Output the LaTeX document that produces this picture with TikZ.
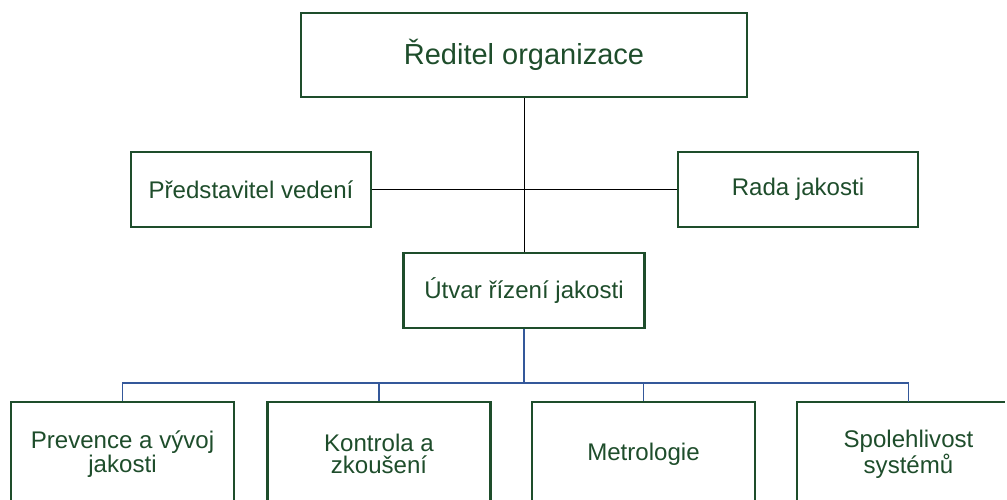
\documentclass[tikz,border=0pt]{standalone}
\usepackage{fontspec}
\setmainfont{Liberation Sans}
\definecolor{orgGreen}{HTML}{1E4D2B}
\definecolor{orgBlue}{HTML}{34589A}
\begin{document}
\begin{tikzpicture}[
                orgBox/.style={draw=orgGreen,line width=1.6pt,text=orgGreen,
                               align=center,inner sep=0pt,
                               font=\fontsize{13.7}{12.6}\selectfont},
                orgLine/.style={draw=black,line width=0.5pt},
                orgBus/.style={draw=orgBlue,line width=0.6pt}]
                \useasboundingbox (0,0) rectangle (20.14,-10);
                \node[orgBox,minimum width=8.92cm,minimum height=1.68cm,
                      font=\fontsize{16.5}{18}\selectfont] (reditel) at (10.48,-1.10) {Ředitel organizace};
                \node[orgBox,minimum width=4.8cm,minimum height=1.5cm] (predstavitel) at (5.02,-3.79) {Představitel vedení};
                \node[orgBox,minimum width=4.8cm,minimum height=1.5cm] (rada) at (15.96,-3.79) {Rada jakosti};
                \node[orgBox,minimum width=4.82cm,minimum height=1.5cm] (utvar) at (10.48,-5.81) {Útvar řízení jakosti};
                \draw[orgLine] (reditel.south) -- (utvar.north);
                \draw[orgLine] (predstavitel.east) -- (rada.west);
                \coordinate (bus) at (10.48,-7.66);
                \foreach \b/\x/\t in {prevence/2.45/{Prevence a vývoj\\jakosti},
                                      kontrola/7.58/{Kontrola a\\zkoušení},
                                      metrologie/12.87/{Metrologie}}{
                    \node[orgBox,minimum width=4.46cm,minimum height=2.08cm] (\b) at (\x,-9.08) {\t};
                    \draw[orgBus] (utvar.south) -- (bus) -| (\b.north);
                }
                % last box runs off the page: only its top and left side show
                \node[orgBox,draw=none,outer sep=0pt,minimum width=4.46cm,minimum height=2.08cm] (spolehlivost) at (18.17,-9.08) {Spolehlivost\\systémů};
                \draw[orgGreen,line width=1.6pt] (spolehlivost.south west) -- (spolehlivost.north west) -- ++(4.16,0);
                \draw[orgBus] (utvar.south) -- (bus) -| (spolehlivost.north);
            \end{tikzpicture}
\end{document}
